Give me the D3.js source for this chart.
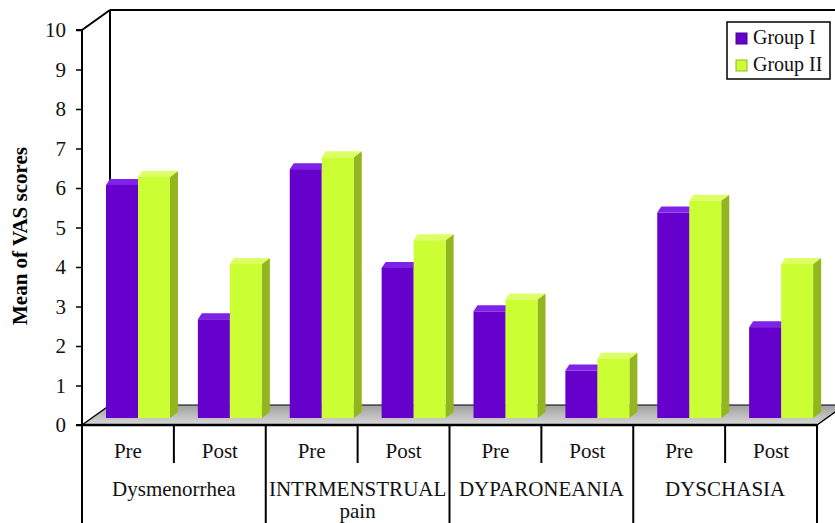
<!DOCTYPE html>
<html>
<head>
<meta charset="utf-8">
<script src="https://cdn.jsdelivr.net/npm/d3@7"></script>
<style>
  body { margin: 0; background: #fff; }
</style>
</head>
<body>
<svg id="chart" width="835" height="523"></svg>
<script>
// data
const groups = ["Dysmenorrhea", "INTRMENSTRUAL pain", "DYPARONEANIA", "DYSCHASIA"];
const phases = ["Pre", "Post"];
const seriesNames = ["Group I", "Group II"];
const groupI = [5.9, 2.5, 6.3, 3.8, 2.7, 1.2, 5.2, 2.3];
const groupII = [6.1, 3.9, 6.6, 4.5, 3.0, 1.5, 5.5, 3.9];
const yTicks = [0, 1, 2, 3, 4, 5, 6, 7, 8, 9, 10];

const colors = [
  { front: "#6600cc", side: "#4a0096", top: "#7d22e6" },
  { front: "#ccff33", side: "#93b51f", top: "#ddff66" }
];

const FONT = "'Liberation Serif'";
const svg = d3.select("#chart");

// front plane geometry
const x0 = 82, x1 = 817, yZero = 425, yTen = 30;
const DX = 28, DY = -20;          // depth of the chart box
const bx = 10, by = -7;           // bar offset into the box
const sdx = 8, sdy = -6;          // bar depth

const y = d3.scaleLinear().domain([0, 10]).range([yZero, yTen]);

const cats = d3.range(groups.length * phases.length);
const x = d3.scaleBand().domain(cats).range([x0, x1]).paddingInner(0).paddingOuter(0);
const barW = 32;

// gradient for the floor
const defs = svg.append("defs");
const fg = defs.append("linearGradient").attr("id", "floor").attr("x1", 0).attr("y1", 0).attr("x2", 0).attr("y2", 1);
fg.append("stop").attr("offset", "0%").attr("stop-color", "#a0a0a0");
fg.append("stop").attr("offset", "100%").attr("stop-color", "#d8d8d8");

// floor
svg.append("polygon")
  .attr("points", [[x0, yZero], [x1, yZero], [x1 + DX, yZero + DY], [x0 + DX, yZero + DY]].join(" "))
  .attr("fill", "url(#floor)");

const box = svg.append("g").attr("stroke", "#000").attr("fill", "none");
box.append("line").attr("x1", x0 + DX).attr("y1", yZero + DY).attr("x2", x1 + DX).attr("y2", yZero + DY).attr("stroke-width", 1.2);
box.append("line").attr("x1", x0).attr("y1", yZero).attr("x2", x0 + DX).attr("y2", yZero + DY).attr("stroke-width", 1.5);
box.append("line").attr("x1", x1).attr("y1", yZero).attr("x2", x1 + DX).attr("y2", yZero + DY).attr("stroke-width", 1.5);
// back wall
box.append("line").attr("x1", x0 + DX).attr("y1", y(10) + DY).attr("x2", 835).attr("y2", y(10) + DY).attr("stroke-width", 2);
box.append("line").attr("x1", x0 + DX).attr("y1", y(10) + DY).attr("x2", x0 + DX).attr("y2", yZero + DY).attr("stroke-width", 2);
box.append("line").attr("x1", x0).attr("y1", y(10)).attr("x2", x0 + DX).attr("y2", y(10) + DY).attr("stroke-width", 2);

// bars
const data = [];
cats.forEach(i => {
  [groupI[i], groupII[i]].forEach((v, s) => data.push({ i, s, v }));
});

const bars = svg.append("g").selectAll("g").data(data).join("g");
bars.each(function (d) {
  const g = d3.select(this);
  const left = x(d.i) + 14 + d.s * barW + bx;
  const right = left + barW;
  const top = y(d.v) + by;
  const base = yZero + by;
  const c = colors[d.s];
  g.append("polygon")
    .attr("points", [[right, top], [right + sdx, top + sdy], [right + sdx, base + sdy], [right, base]].join(" "))
    .attr("fill", c.side);
  g.append("polygon")
    .attr("points", [[left, top], [left + 4, top + sdy], [right + sdx, top + sdy], [right, top]].join(" "))
    .attr("fill", c.top);
  g.append("rect")
    .attr("x", left).attr("y", top)
    .attr("width", barW).attr("height", base - top)
    .attr("fill", c.front);
});

// front value axis
const axis = svg.append("g").attr("transform", `translate(${x0},0)`)
  .call(d3.axisLeft(y).tickValues(yTicks).tickSize(6).tickPadding(10).tickFormat(d3.format("d")));
axis.select(".domain").attr("stroke", "#000").attr("stroke-width", 2).attr("d", `M-6,${yTen}H0V${yZero}H-6`);
axis.selectAll(".tick line").attr("stroke", "#000").attr("stroke-width", 1.5);
axis.selectAll(".tick text").attr("font-size", 21).attr("fill", "#111");

// y title
svg.append("text")
  .attr("transform", "translate(27,236) rotate(-90)")
  .attr("text-anchor", "middle")
  .attr("font-weight", "bold")
  .attr("font-size", 21)
  .text("Mean of VAS scores");

// category table
const tbl = svg.append("g").attr("stroke", "#000");
tbl.append("line").attr("x1", x0).attr("y1", yZero).attr("x2", x1).attr("y2", yZero).attr("stroke-width", 2.5);
cats.concat([cats.length]).forEach(i => {
  const xx = i < cats.length ? x(i) : x1;
  const long = i % 2 === 0;
  tbl.append("line")
    .attr("x1", xx).attr("y1", yZero)
    .attr("x2", xx).attr("y2", long ? 523 : 463)
    .attr("stroke-width", 2);
});

const lbl = svg.append("g").attr("font-size", 21).attr("fill", "#111").attr("text-anchor", "middle");
cats.forEach(i => {
  lbl.append("text")
    .attr("x", x(i) + x.bandwidth() / 2).attr("y", 458)
    .text(phases[i % 2]);
});
groups.forEach((gname, gi) => {
  const cx = x(gi * 2) + x.bandwidth();
  const parts = gname === "INTRMENSTRUAL pain" ? ["INTRMENSTRUAL", "pain"] : [gname];
  parts.forEach((p, k) => {
    lbl.append("text").attr("x", cx).attr("y", 496 + k * 22).text(p);
  });
});

// legend
const lg = svg.append("g").attr("transform", "translate(727,22)");
lg.append("rect").attr("width", 103).attr("height", 57).attr("fill", "#fff").attr("stroke", "#000").attr("stroke-width", 1.5);
seriesNames.forEach((n, k) => {
  lg.append("rect").attr("x", 9).attr("y", 11 + k * 27).attr("width", 11).attr("height", 11)
    .attr("fill", colors[k].front).attr("stroke", colors[k].side).attr("stroke-width", 1);
  lg.append("text").attr("x", 26).attr("y", 22 + k * 27).attr("font-size", 20).attr("fill", "#111").text(n);
});

// every text in the chart uses the serif face
svg.selectAll("text").style("font-family", FONT);
</script>
</body>
</html>
